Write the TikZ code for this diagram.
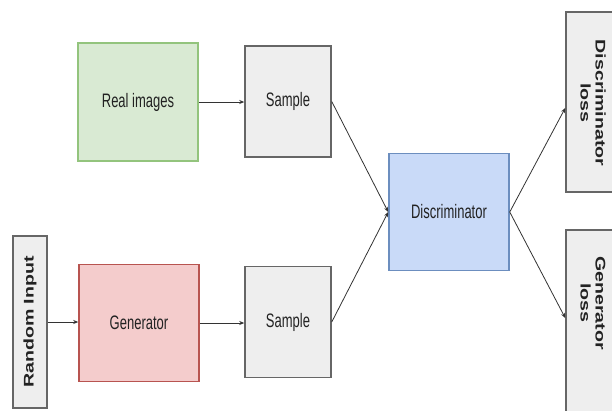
\documentclass[tikz,border=0pt]{standalone}
\usepackage{fontspec}
\setmainfont{Liberation Sans}
\usetikzlibrary{arrows.meta}
\definecolor{grfill}{HTML}{D9EAD3}
\definecolor{grline}{HTML}{93C47D}
\definecolor{rdfill}{HTML}{F4CCCC}
\definecolor{rdline}{HTML}{B85450}
\definecolor{blfill}{HTML}{C9DAF8}
\definecolor{blline}{HTML}{6C8EBF}
\definecolor{gyfill}{HTML}{EEEEEE}
\definecolor{gyline}{HTML}{666666}
\definecolor{txt}{HTML}{222222}
\tikzset{
  box/.style={draw, line width=1.5pt, inner sep=0pt, text=txt, font=\fontsize{13}{15}\selectfont},
  greybox/.style={box, draw=gyline, fill=gyfill},
  vlabel/.style={inner sep=0pt, text=txt, align=center, font=\fontsize{14}{15}\selectfont},
  arr/.style={-{Stealth[length=5pt,width=4pt]}, line width=0.8pt, draw=black!80},
}
\newcommand{\htext}[1]{\scalebox{1}[1.5]{#1}}
\newcommand{\vtext}[1]{\scalebox{1.4}[1]{\fontsize{14}{15}\selectfont\bfseries #1}}
\begin{document}
\begin{tikzpicture}[x=1pt,y=-1pt]
\useasboundingbox (0,0) rectangle (612,410);
\begin{scope}
\clip (0,0) rectangle (612,410);
\node[box, draw=grline, fill=grfill, minimum width=120pt, minimum height=118pt] (real) at (138,102) {\htext{Real images}};
\node[greybox, minimum width=86pt, minimum height=111pt] (s1) at (288,101.5) {\htext{Sample}};
\node[greybox, minimum width=86pt, minimum height=111pt] (s2) at (288,322) {\htext{Sample}};
\node[box, draw=rdline, fill=rdfill, minimum width=120pt, minimum height=117pt] (gen) at (139,323) {\htext{Generator}};
\node[box, draw=blline, fill=blfill, minimum width=120pt, minimum height=117pt] (disc) at (449,212) {\htext{Discriminator}};
\node[greybox, minimum width=34pt, minimum height=172pt] (rin) at (30,322) {};
\node[vlabel, rotate=90] (rinlabel) at (rin.center) {\vtext{Random Input}};
\node[greybox, minimum width=59pt, minimum height=180pt] (dl) at (595.5,102) {};
\node[vlabel, rotate=-90] (dllabel) at (593,103) {\vtext{Discriminator}\\\vtext{loss}};
\node[greybox, minimum width=59pt, minimum height=184pt] (gl) at (595.5,322) {};
\node[vlabel, rotate=-90] (gllabel) at (593,303) {\vtext{Generator}\\\vtext{loss}};
\draw[arr] (real.east) -- (real.east -| s1.west);
\draw[arr] (rin.east) -- (rin.east -| gen.west);
\draw[arr] (gen.east) -- (gen.east -| s2.west);
\draw[arr] (s1.east) -- (disc.west);
\draw[arr] (s2.east) -- (disc.west);
\draw[arr] (disc.east) -- ([yshift=-6pt]dl.west);
\draw[arr] (disc.east) -- ([yshift=4pt]gl.west);
\end{scope}
\end{tikzpicture}
\end{document}
